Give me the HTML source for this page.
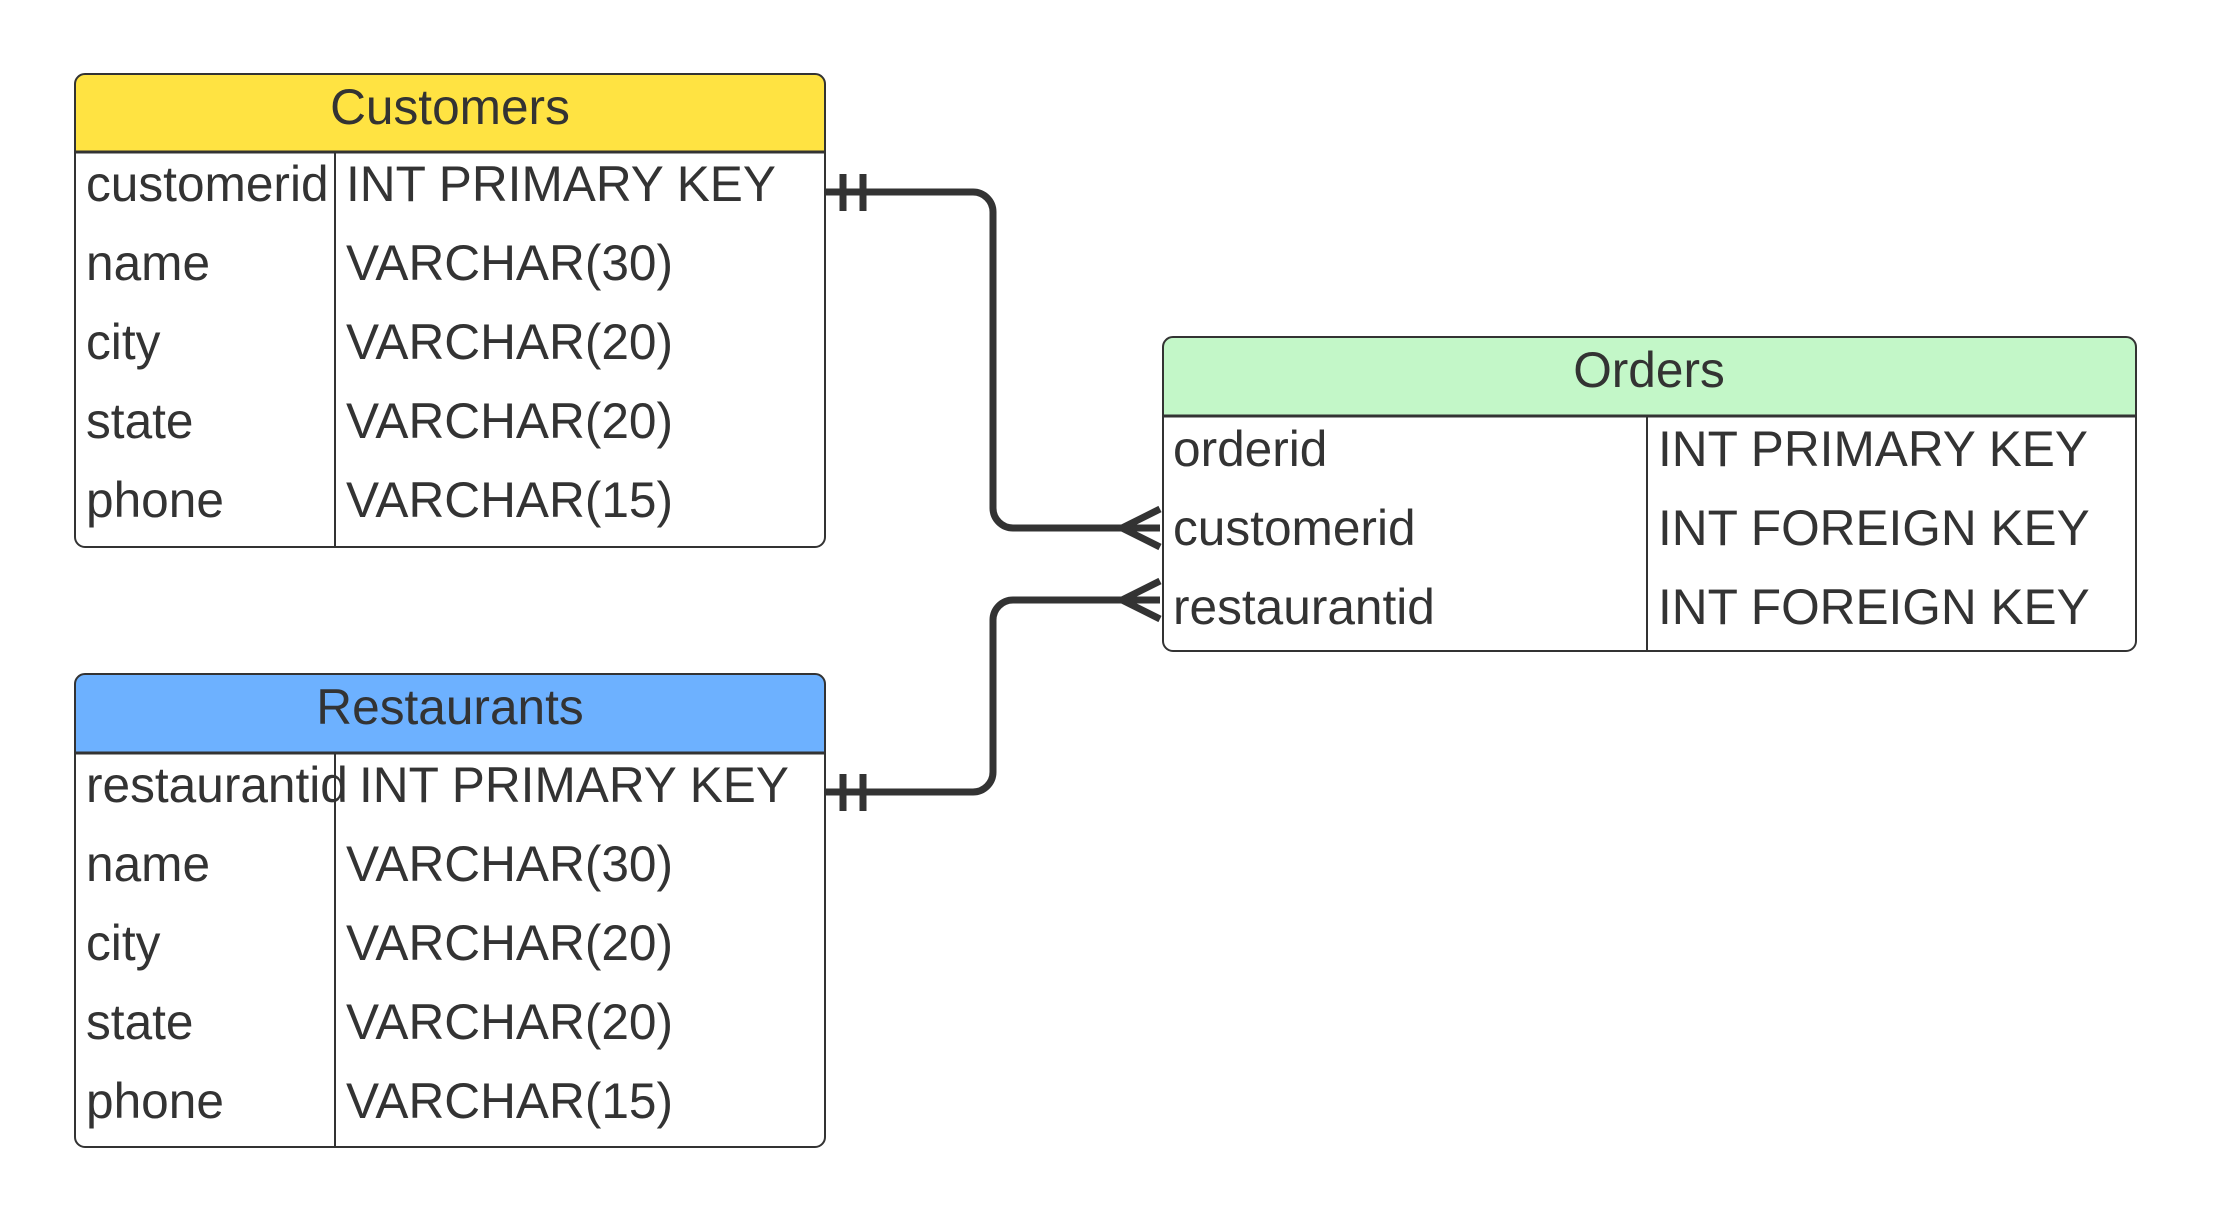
<!DOCTYPE html>
<html><head><meta charset="utf-8"><style>
html,body{margin:0;padding:0;background:#fff;}
svg{display:block;}
text{font-family:"Liberation Sans",sans-serif;fill:#333;font-size:49.6px;}
</style></head><body>
<svg width="2213" height="1223" viewBox="0 0 2213 1223" xmlns="http://www.w3.org/2000/svg">
<!-- Customers -->
<path d="M75,84 a10,10 0 0 1 10,-10 H815 a10,10 0 0 1 10,10 V152 H75 Z" fill="#FFE342"/>
<rect x="75" y="74" width="750" height="473" rx="10" fill="none" stroke="#333" stroke-width="2"/>
<line x1="75" y1="152" x2="825" y2="152" stroke="#333" stroke-width="3"/>
<line x1="335" y1="152" x2="335" y2="547" stroke="#333" stroke-width="2"/>
<text x="450" y="124" text-anchor="middle">Customers</text>
<text x="86" y="201">customerid</text><text x="346" y="201">INT PRIMARY KEY</text>
<text x="86" y="280">name</text><text x="346" y="280">VARCHAR(30)</text>
<text x="86" y="359">city</text><text x="346" y="359">VARCHAR(20)</text>
<text x="86" y="438">state</text><text x="346" y="438">VARCHAR(20)</text>
<text x="86" y="517">phone</text><text x="346" y="517">VARCHAR(15)</text>

<!-- Restaurants -->
<path d="M75,684 a10,10 0 0 1 10,-10 H815 a10,10 0 0 1 10,10 V753 H75 Z" fill="#6DB1FF"/>
<rect x="75" y="674" width="750" height="473" rx="10" fill="none" stroke="#333" stroke-width="2"/>
<line x1="75" y1="753" x2="825" y2="753" stroke="#333" stroke-width="3"/>
<line x1="335" y1="753" x2="335" y2="1147" stroke="#333" stroke-width="2"/>
<text x="450" y="724" text-anchor="middle">Restaurants</text>
<text x="86" y="802">restaurantid</text><text x="359" y="802">INT PRIMARY KEY</text>
<text x="86" y="881">name</text><text x="346" y="881">VARCHAR(30)</text>
<text x="86" y="960">city</text><text x="346" y="960">VARCHAR(20)</text>
<text x="86" y="1039">state</text><text x="346" y="1039">VARCHAR(20)</text>
<text x="86" y="1118">phone</text><text x="346" y="1118">VARCHAR(15)</text>

<!-- Orders -->
<path d="M1163,347 a10,10 0 0 1 10,-10 H2126 a10,10 0 0 1 10,10 V416 H1163 Z" fill="#C3F7C8"/>
<rect x="1163" y="337" width="973" height="314" rx="10" fill="none" stroke="#333" stroke-width="2"/>
<line x1="1163" y1="416" x2="2136" y2="416" stroke="#333" stroke-width="3"/>
<line x1="1647" y1="416" x2="1647" y2="651" stroke="#333" stroke-width="2"/>
<text x="1649" y="387" text-anchor="middle">Orders</text>
<text x="1173" y="466">orderid</text><text x="1658" y="466">INT PRIMARY KEY</text>
<text x="1173" y="545">customerid</text><text x="1658" y="545">INT FOREIGN KEY</text>
<text x="1173" y="624">restaurantid</text><text x="1658" y="624">INT FOREIGN KEY</text>

<!-- Connectors -->
<g stroke="#333" stroke-width="7" fill="none">
<path d="M825,192 H973 a20,20 0 0 1 20,20 V508 a20,20 0 0 0 20,20 H1160"/>
<path d="M825,792 H973 a20,20 0 0 0 20,-20 V620 a20,20 0 0 1 20,-20 H1160"/>
<line x1="843" y1="174" x2="843" y2="211"/><line x1="863" y1="174" x2="863" y2="211"/>
<line x1="843" y1="774" x2="843" y2="811"/><line x1="863" y1="774" x2="863" y2="811"/>
<path d="M1160,509 L1122,528 L1160,547"/>
<path d="M1160,581 L1122,600 L1160,619"/>
</g>
</svg>
</body></html>
